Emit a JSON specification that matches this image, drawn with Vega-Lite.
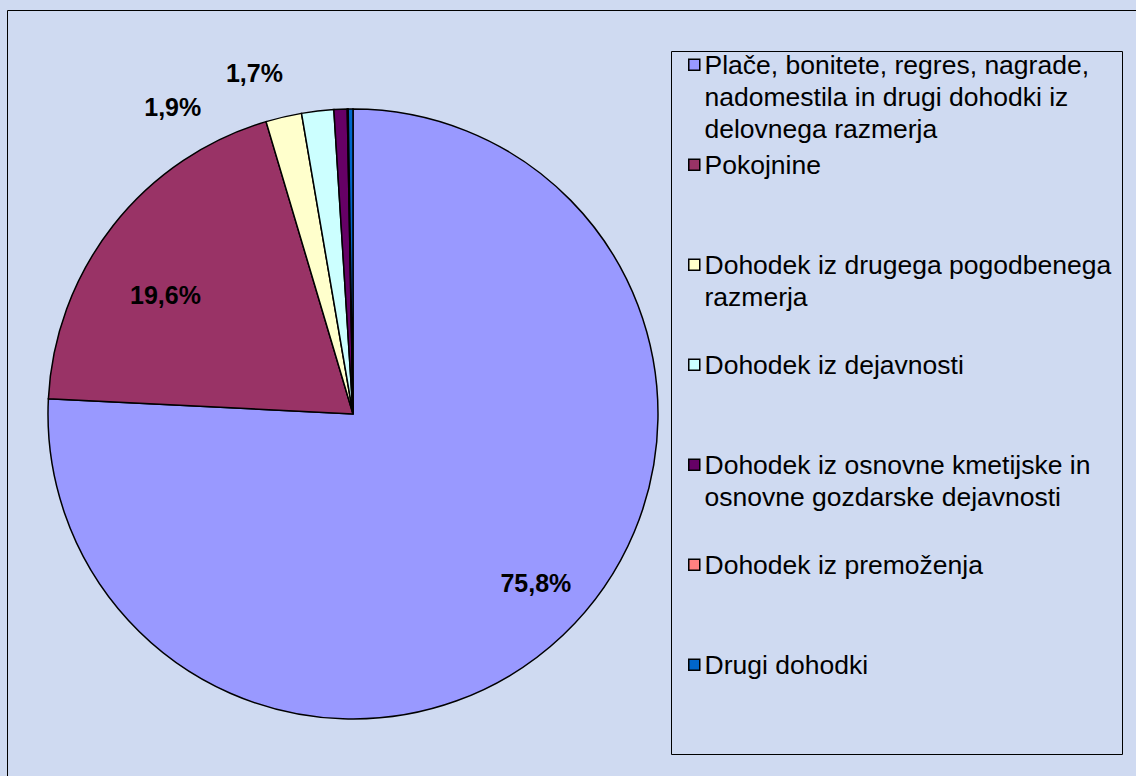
{
  "$schema": "https://vega.github.io/schema/vega-lite/v6.json",
  "width": 692,
  "height": 724,
  "autosize": {"type": "none"},
  "padding": {"left": 7, "top": 52, "right": 437, "bottom": 0},
  "background": "#CFDAF1",
  "config": {
    "view": {"stroke": null},
    "locale": {"number": {"decimal": ",", "thousands": ".", "grouping": [3], "currency": ["", " €"]}},
    "style": {"guide-label": {"lineHeight": 32}}
  },
  "data": {
    "values": [
      {"kategorija": "Plače, bonitete, regres, nagrade, nadomestila in drugi dohodki iz delovnega razmerja", "delez": 0.758, "poz": 1},
      {"kategorija": "Pokojnine", "delez": 0.196, "poz": 2},
      {"kategorija": "Dohodek iz drugega pogodbenega razmerja", "delez": 0.019, "poz": 3},
      {"kategorija": "Dohodek iz dejavnosti", "delez": 0.017, "poz": 4},
      {"kategorija": "Dohodek iz osnovne kmetijske in osnovne gozdarske dejavnosti", "delez": 0.007, "poz": 5},
      {"kategorija": "Dohodek iz premoženja", "delez": 0.0005, "poz": 6},
      {"kategorija": "Drugi dohodki", "delez": 0.0025, "poz": 7}
    ]
  },
  "encoding": {
    "theta": {"field": "delez", "type": "quantitative", "stack": true},
    "order": {"field": "poz", "type": "quantitative"},
    "detail": {"field": "kategorija", "type": "nominal"}
  },
  "layer": [
    {
      "mark": {"type": "arc", "outerRadius": 305, "stroke": "#000000", "strokeWidth": 1.5},
      "encoding": {
        "color": {
          "field": "kategorija",
          "type": "nominal",
          "sort": null,
          "scale": {
            "domain": [
              "Plače, bonitete, regres, nagrade, nadomestila in drugi dohodki iz delovnega razmerja",
              "Pokojnine",
              "Dohodek iz drugega pogodbenega razmerja",
              "Dohodek iz dejavnosti",
              "Dohodek iz osnovne kmetijske in osnovne gozdarske dejavnosti",
              "Dohodek iz premoženja",
              "Drugi dohodki"
            ],
            "range": ["#9999FF", "#993366", "#FFFFCC", "#CCFFFF", "#660066", "#FF8080", "#0066CC"]
          },
          "legend": {
            "title": null,
            "orient": "none",
            "legendX": 664,
            "legendY": -1,
            "direction": "vertical",
            "padding": 10,
            "strokeColor": "#000000",
            "symbolType": "M-1,-2.73H1V-0.73H-1Z",
            "symbolSize": 121,
            "symbolStrokeColor": "#000000",
            "symbolStrokeWidth": 1.5,
            "symbolOffset": 0,
            "symbolOpacity": 1,
            "labelFont": "Liberation Sans",
            "labelFontSize": 26.5,
            "labelColor": "#000000",
            "labelBaseline": "alphabetic",
            "labelOffset": -3,
            "labelLimit": 0,
            "rowPadding": 9,
            "labelExpr": "datum.label == 'Plače, bonitete, regres, nagrade, nadomestila in drugi dohodki iz delovnega razmerja' ? ['Plače, bonitete, regres, nagrade,', 'nadomestila in drugi dohodki iz', 'delovnega razmerja'] : datum.label == 'Dohodek iz drugega pogodbenega razmerja' ? ['Dohodek iz drugega pogodbenega', 'razmerja', ''] : datum.label == 'Dohodek iz osnovne kmetijske in osnovne gozdarske dejavnosti' ? ['Dohodek iz osnovne kmetijske in', 'osnovne gozdarske dejavnosti', ''] : [datum.label, '', '']"
          }
        },
        "opacity": {
          "field": "poz",
          "type": "ordinal",
          "scale": {"range": [1, 1]},
          "legend": {
            "title": null,
            "orient": "none",
            "legendX": 0,
            "legendY": -42,
            "padding": 650,
            "values": [1],
            "strokeColor": "#000000",
            "symbolSize": 0,
            "symbolStrokeWidth": 0,
            "symbolFillColor": "transparent",
            "symbolStrokeColor": "transparent",
            "symbolOpacity": 0,
            "labelExpr": "''",
            "labelOpacity": 0,
            "labelFontSize": 1
          }
        }
      }
    },
    {
      "mark": {"type": "text", "radius": 248, "dx": 12, "dy": -10, "font": "Liberation Sans", "fontSize": 25, "fontWeight": "bold", "color": "#000000"},
      "encoding": {
        "text": {"condition": {"test": "datum.poz == 1", "field": "delez", "type": "quantitative", "format": ".1%"}, "value": ""}
      }
    },
    {
      "mark": {"type": "text", "radius": 222, "dx": -13, "dy": 19, "font": "Liberation Sans", "fontSize": 25, "fontWeight": "bold", "color": "#000000"},
      "encoding": {
        "text": {"condition": {"test": "datum.poz == 2", "field": "delez", "type": "quantitative", "format": ".1%"}, "value": ""}
      }
    },
    {
      "mark": {"type": "text", "radius": 340, "dx": -103, "dy": 25, "font": "Liberation Sans", "fontSize": 25, "fontWeight": "bold", "color": "#000000"},
      "encoding": {
        "text": {"condition": {"test": "datum.poz == 3", "field": "delez", "type": "quantitative", "format": ".1%"}, "value": ""}
      }
    },
    {
      "mark": {"type": "text", "radius": 350, "dx": -58, "dy": 8, "font": "Liberation Sans", "fontSize": 25, "fontWeight": "bold", "color": "#000000"},
      "encoding": {
        "text": {"condition": {"test": "datum.poz == 4", "field": "delez", "type": "quantitative", "format": ".1%"}, "value": ""}
      }
    }
  ]
}
